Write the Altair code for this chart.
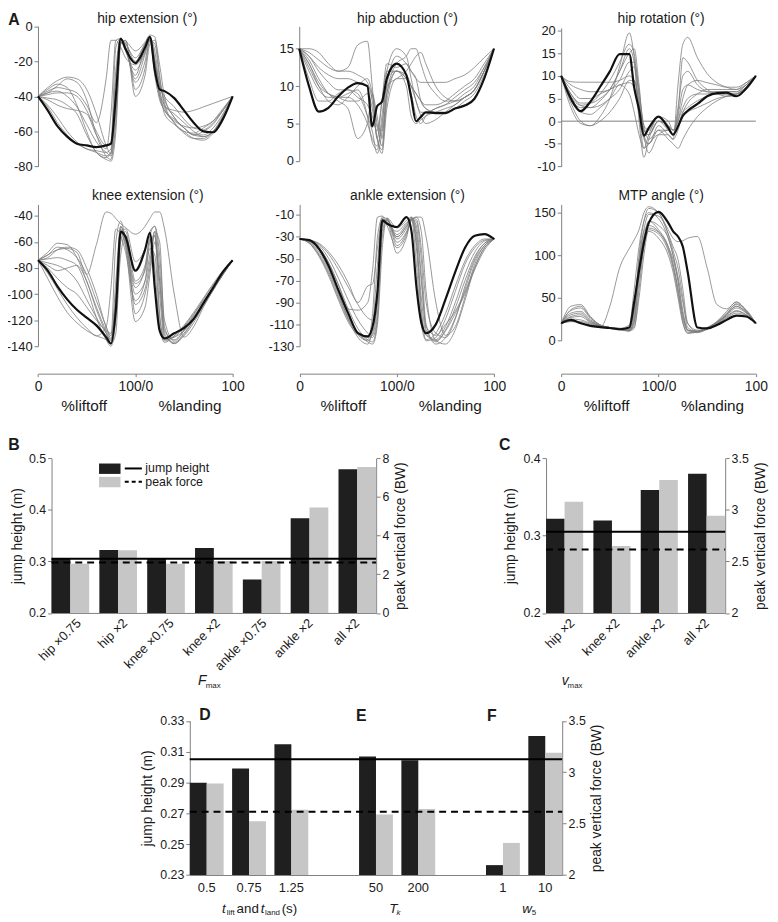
import altair as alt
import pandas as pd

# ---------------------------------------------------------------- data ----
X_GRID = [0, 10, 20, 30, 40, 50, 60, 70, 75, 80, 85, 90, 100, 110, 115,
          120, 125, 130, 140, 150, 160, 170, 180, 190, 200]

HIP_EXT_MEAN = [-40, -48, -57, -63, -67, -68, -69, -68, -67, -40, -7, -13, -21, -12, -6,
                -25, -36, -37, -41, -48, -55, -60, -60.5, -53, -40]
HIP_EXT_TRIALS = [
    [-40, -36, -33, -35, -45, -60, -72, -75, -72, -40, -8, -10, -20, -10, -7, -22, -38, -45, -50, -55, -60, -63, -60, -52, -40],
    [-40, -38, -34, -30, -32, -42, -62, -74, -76, -50, -9, -14, -28, -12, -8, -20, -33, -42, -52, -58, -62, -62, -58, -50, -40],
    [-40, -41, -42, -45, -50, -62, -72, -76, -77, -60, -10, -8, -36, -24, -8, -10, -30, -44, -55, -60, -64, -65, -61, -52, -40],
    [-40, -35, -31, -29, -30, -36, -50, -68, -73, -30, -7, -12, -32, -20, -8, -25, -40, -48, -53, -58, -62, -60, -56, -48, -40],
    [-40, -45, -52, -60, -66, -70, -71, -72, -70, -25, -7, -10, -18, -10, -6, -20, -34, -40, -46, -53, -58, -59, -55, -48, -40],
    [-40, -42, -45, -47, -48, -50, -62, -70, -50, -8, -7, -14, -25, -15, -7, -14, -35, -50, -56, -60, -61, -58, -54, -47, -40],
    [-40, -38, -37, -40, -46, -56, -66, -72, -74, -55, -10, -8, -40, -28, -10, -8, -22, -40, -52, -58, -62, -63, -60, -52, -40],
    [-40, -37, -35, -36, -38, -45, -55, -30, -8, -8, -12, -18, -22, -14, -6, -18, -40, -46, -48, -49, -48, -46, -44, -42, -40],
    [-40, -46, -55, -62, -67, -70, -72, -74, -72, -45, -9, -9, -14, -9, -5, -6, -28, -46, -55, -61, -64, -64, -60, -51, -40],
    [-40, -39, -38, -38, -40, -48, -60, -68, -66, -12, -7, -12, -30, -16, -7, -28, -42, -48, -54, -57, -58, -57, -54, -48, -40],
]

HIP_ABD_MEAN = [15, 10, 6.6, 7.1, 8.6, 9.8, 10.4, 10.0, 4.6, 7.3, 7.9, 11.0, 13.0, 11.5, 8.5,
                5.3, 5.9, 6.5, 6.4, 6.4, 7.0, 7.4, 8.3, 11.0, 15]
HIP_ABD_TRIALS = [
    [15, 15, 14.5, 13, 12, 12.5, 15.5, 16, 10, 3, 8, 13, 12.5, 13, 12, 11, 10.5, 10.5, 10.5, 10.5, 11, 11.5, 12.5, 13.8, 15],
    [15, 12, 9.5, 8.5, 8.5, 9, 9.5, 6, 2.5, 1.5, 6, 11, 12, 10, 6, 5, 5.5, 6, 6.5, 7, 7.5, 8.5, 9.5, 12, 15],
    [15, 13, 10.5, 9, 8.5, 8.5, 7.5, 5, 3, 2, 5, 10, 11, 12, 13, 14, 14.5, 13, 10, 8.5, 8, 8.5, 9.5, 12, 15],
    [15, 14, 12, 10.5, 9.5, 9.5, 9, 6, 4, 1, 4, 12, 15, 14, 11, 8, 6.5, 6.5, 7, 7.5, 8.5, 9.5, 10.5, 12.5, 15],
    [15, 11, 8, 8, 9, 9.5, 8.5, 7.5, 6, 4, 8, 12, 12, 11, 9, 6, 5, 6, 7, 7.5, 8, 9, 10, 12.5, 15],
    [15, 13.5, 11, 9, 8, 7, 3, 5, 9, 6, 3, 10, 14, 13, 12, 11, 8, 7, 6.5, 6.5, 7, 8, 9, 11.5, 15],
    [15, 12.5, 10, 9, 8.5, 8, 8, 9, 7, 3, 1.5, 8, 12, 11, 10, 9, 8, 7, 6.5, 6.5, 7, 7.5, 8.5, 11, 15],
    [15, 14, 12.5, 11.5, 11, 11, 10.5, 10, 9, 5, 2, 9, 13, 14, 15, 15, 13, 11, 9, 8, 8, 8.5, 9.5, 12, 15],
    [15, 13, 10, 8, 7.5, 8.5, 10, 11, 9, 4.5, 4, 9, 12, 11.5, 10, 8, 6, 5, 5.5, 6.5, 7.5, 8.5, 9.5, 12, 15],
    [15, 14.5, 13.5, 12.5, 12, 12, 11.5, 10.5, 8, 3, 1, 7, 11, 11, 10, 9, 8, 7.5, 7.5, 8, 9, 10, 11, 13, 15],
]

HIP_ROT_MEAN = [10, 5, 2.2, 4.3, 7.6, 11, 14.8, 14.8, 7.4, 2.5, -3.2, -1.5, 1, -1.5, -3,
                -1.2, 1.2, 2.3, 3.8, 5.5, 6.2, 6.3, 5.5, 7.2, 10]
HIP_ROT_TRIALS = [
    [10, 8.7, 8.6, 8.6, 8.6, 8.6, 9, 10, 9, 4, -2, -3, 0, -1, -2, 0, 5, 8, 9, 8.5, 8, 7.5, 7.5, 8.5, 10],
    [10, 4, 0, -1, 1, 5, 12, 19.5, 14, 2, -6, -5, -3, -3, -4, 8, 17, 18.5, 14, 10.5, 8.5, 7.5, 7, 8, 10],
    [10, 6, 4, 4, 5, 7, 11, 16, 13, 0, -8, -4, 0, -1, -2, 2, 14, 13, 9, 7, 6, 6, 6, 7.5, 10],
    [10, 3, -0.5, -1, 0, 2, 5, 9, 9, 4, -3, -5, -2, -4, -5, -6, -4, -2, 1, 3, 4.5, 5.5, 6, 7.5, 10],
    [10, 5, 3, 3, 4.5, 7, 11, 15, 16, 8, -2, -3, 0, -2, -3, 3, 10, 11, 8, 6.5, 6, 5.5, 5.5, 7, 10],
    [10, 4.5, 2, 1.5, 3, 5, 8, 6, 2, -3, -6, -3, 1, 0, -2, 0, 3, 5, 6, 6, 6.5, 6.5, 6.5, 8, 10],
    [10, 7, 5, 5, 6, 7, 8, 8.5, 7.5, 3, -1, -2, 1, -1, -3, -1, 2, 4, 6, 7, 7, 7, 7, 8.5, 10],
    [10, 5.5, 3.5, 4, 6, 9, 13, 17, 15, 5, -4, -5, -1, -3, -4, -2, 2, 3, 4.5, 5.5, 6, 6, 6, 7.5, 10],
    [10, 6, 3.5, 3, 3.5, 5, 7, 11, 12, 6, -1, -4, -2, -2, -3, 1, 7, 8, 7, 6.5, 6.5, 6.5, 6.5, 8, 10],
    [10, 8, 7, 6.5, 6.5, 7, 9, 13, 13, 7, -3, -7, -3, -2, -3, -1, 1, 2, 3, 4, 5, 5.5, 6, 7.5, 10],
]

KNEE_MEAN = [-74, -82, -94, -104, -112, -118, -124, -133, -138, -112, -52, -56, -82, -66, -53,
             -95, -128, -134, -130, -126, -119, -107, -95, -83, -74]
KNEE_TRIALS = [
    [-74, -70, -66, -65, -68, -85, -62, -37, -38, -42, -46, -49, -54, -48, -42, -37, -37, -50, -100, -133, -125, -110, -97, -85, -74],
    [-74, -68, -61, -62, -72, -90, -110, -128, -135, -90, -48, -60, -100, -90, -70, -52, -100, -135, -133, -125, -115, -105, -95, -84, -74],
    [-74, -72, -66, -64, -66, -80, -100, -125, -132, -60, -44, -58, -95, -80, -55, -48, -70, -120, -136, -128, -116, -104, -93, -83, -74],
    [-74, -78, -82, -80, -78, -90, -112, -130, -138, -100, -50, -62, -108, -96, -75, -55, -90, -130, -138, -130, -120, -108, -96, -85, -74],
    [-74, -88, -102, -114, -122, -128, -132, -135, -138, -130, -60, -52, -90, -78, -58, -80, -125, -137, -132, -124, -114, -103, -92, -82, -74],
    [-74, -84, -96, -108, -118, -126, -132, -125, -95, -50, -55, -68, -105, -90, -60, -55, -115, -136, -132, -125, -117, -106, -95, -84, -74],
    [-74, -70, -64, -66, -72, -85, -105, -125, -134, -115, -55, -50, -75, -65, -52, -48, -80, -128, -135, -128, -118, -106, -95, -84, -74],
    [-74, -73, -72, -74, -78, -95, -118, -135, -140, -120, -70, -55, -115, -100, -80, -52, -60, -125, -138, -132, -122, -109, -97, -85, -74],
    [-74, -80, -88, -95, -100, -110, -120, -128, -130, -105, -48, -58, -92, -82, -65, -70, -118, -134, -133, -128, -119, -107, -95, -84, -74],
    [-74, -76, -78, -82, -90, -104, -118, -130, -136, -110, -52, -64, -121, -110, -85, -60, -90, -132, -137, -131, -120, -108, -96, -85, -74],
]

ANKLE_MEAN = [-32, -33, -41, -57, -79, -100, -118, -121, -112, -80, -15, -18, -21, -12, -25,
              -75, -108, -118, -110, -87, -62, -40, -29, -27.5, -32]
ANKLE_TRIALS = [
    [-32, -33, -36, -44, -56, -72, -90, -75, -73, -40, -12, -14, -30, -20, -13, -14, -40, -90, -118, -122, -105, -75, -50, -36, -32],
    [-32, -34, -40, -54, -74, -96, -97, -90, -60, -12, -11, -20, -40, -28, -14, -12, -12, -30, -90, -120, -112, -85, -55, -38, -32],
    [-32, -36, -48, -66, -88, -108, -120, -125, -118, -85, -18, -15, -28, -18, -12, -40, -100, -120, -124, -112, -90, -64, -44, -34, -32],
    [-32, -34, -42, -58, -80, -102, -118, -126, -128, -110, -40, -13, -35, -25, -15, -12, -25, -80, -125, -128, -115, -88, -58, -40, -32],
    [-32, -35, -46, -62, -84, -104, -118, -124, -100, -30, -13, -18, -25, -17, -14, -55, -110, -124, -118, -100, -75, -52, -38, -32, -32],
    [-32, -33, -38, -50, -68, -88, -106, -118, -122, -100, -25, -14, -32, -22, -13, -20, -65, -115, -126, -115, -95, -70, -48, -36, -32],
    [-32, -35, -44, -60, -82, -105, -122, -128, -112, -55, -14, -16, -45, -30, -13, -30, -95, -125, -122, -105, -80, -55, -40, -33, -32],
    [-32, -34, -40, -54, -74, -96, -114, -124, -126, -105, -30, -15, -38, -26, -14, -16, -50, -110, -128, -122, -104, -78, -52, -38, -32],
    [-32, -33, -37, -46, -60, -76, -92, -104, -106, -80, -20, -13, -22, -15, -12, -25, -70, -112, -120, -110, -98, -80, -58, -40, -32],
    [-32, -36, -47, -64, -86, -106, -119, -122, -120, -90, -16, -17, -30, -20, -14, -35, -85, -118, -125, -116, -100, -82, -60, -42, -32],
]

MTP_MEAN = [20, 24, 20, 17, 15.5, 14.5, 13, 15, 45, 82, 115, 138, 151, 138, 128,
            122, 110, 80, 15, 14, 18, 24, 29, 28, 20]
MTP_TRIALS = [
    [20, 22, 21, 18, 15, 40, 85, 108, 118, 130, 150, 157, 150, 130, 120, 116, 117, 120, 122, 85, 42, 37, 45, 35, 20],
    [20, 40, 42, 28, 18, 15, 13, 11, 14, 60, 110, 140, 135, 120, 100, 75, 45, 20, 10, 14, 22, 34, 45, 35, 20],
    [20, 35, 38, 26, 18, 15, 13, 12, 20, 80, 120, 140, 130, 110, 90, 60, 30, 12, 10, 13, 20, 30, 40, 33, 20],
    [20, 28, 30, 22, 17, 14, 12, 11, 30, 100, 140, 155, 150, 125, 110, 95, 60, 20, 12, 14, 20, 28, 35, 30, 20],
    [20, 32, 34, 24, 18, 15, 14, 12, 16, 50, 100, 130, 125, 105, 85, 55, 25, 11, 11, 15, 22, 32, 42, 34, 20],
    [20, 25, 24, 20, 16, 14, 13, 12, 40, 95, 128, 135, 128, 110, 95, 70, 35, 12, 9, 13, 19, 27, 34, 30, 20],
    [20, 27, 28, 21, 17, 15, 14, 18, 60, 110, 140, 150, 143, 120, 100, 70, 30, 12, 11, 15, 21, 29, 38, 32, 20],
    [20, 30, 32, 23, 17, 15, 13, 11, 25, 85, 122, 132, 127, 108, 88, 60, 22, 9, 10, 14, 20, 30, 40, 33, 20],
    [20, 22, 22, 19, 16, 15, 14, 13, 35, 90, 130, 148, 146, 125, 105, 85, 50, 15, 10, 14, 19, 26, 32, 29, 20],
    [20, 36, 40, 27, 18, 15, 13, 12, 22, 70, 112, 128, 120, 100, 80, 50, 20, 8, 10, 14, 21, 31, 43, 36, 20],
]

B_CONDITIONS = ["hip ×0.75", "hip ×2", "knee ×0.75", "knee ×2", "ankle ×0.75", "ankle ×2", "all ×2"]
B_JUMP = [0.306, 0.322, 0.306, 0.326, 0.265, 0.384, 0.479]
B_FORCE = [2.55, 3.24, 2.55, 2.69, 2.69, 5.46, 7.55]

C_CONDITIONS = ["hip ×2", "knee ×2", "ankle ×2", "all ×2"]
C_JUMP = [0.322, 0.3195, 0.359, 0.380]
C_FORCE = [3.08, 2.65, 3.29, 2.944]

DEF_CONDITIONS = ["0.5", "0.75", "1.25", "50", "200", "1", "10"]
DEF_SLOTS = ["0.5", "0.75", "1.25", "gap1", "50", "200", "gap2", "1", "10"]
DEF_JUMP = [0.2898, 0.299, 0.3148, 0.3069, 0.3044, 0.2364, 0.3201]
DEF_FORCE = [2.89, 2.524, 2.634, 2.589, 2.643, 2.312, 3.19]

JUMP_REF = 0.305
FORCE_REF = 2.615

# -------------------------------------------------------------- layout ----
W, H = 770, 914
M = 8  # page margin: chart origin sits at page (8, 8)


def P(v):
    return v - M


FONT = "Liberation Sans"
INK = "#1a1a1a"
AXIS_GRAY = "#808080"
BAR_DARK = "#1f1f1f"
BAR_LIGHT = "#c6c6c6"
TRIAL_GRAY = "#7d7d7d"
NUM_EXPR = "'' + datum.value"

A_LAYOUT = [
    dict(left=38.3, right=235, top=21.7, bottom=163.3, domain=[-80, 0], ticks=[0, -20, -40, -60, -80]),
    dict(left=302.3, right=499, top=21.7, bottom=157.7, domain=[0, 18], ticks=[0, 5, 10, 15]),
    dict(left=567, right=763.7, top=23.3, bottom=163.3, domain=[-10, 20.6], ticks=[-10, -5, 0, 5, 10, 15, 20], zero=True),
    dict(left=38.3, right=235, top=201.7, bottom=345, domain=[-140, -31.2], ticks=[-40, -60, -80, -100, -120, -140], xaxis=372.7),
    dict(left=302.7, right=499.3, top=201.7, bottom=345, domain=[-130, -0.4], ticks=[-10, -30, -50, -70, -90, -110, -130], xaxis=372.7),
    dict(left=567, right=763.7, top=201.7, bottom=339, domain=[0, 159.7], ticks=[0, 50, 100, 150], xaxis=372.7),
]
A_DATA = [
    (HIP_EXT_TRIALS, HIP_EXT_MEAN), (HIP_ABD_TRIALS, HIP_ABD_MEAN), (HIP_ROT_TRIALS, HIP_ROT_MEAN),
    (KNEE_TRIALS, KNEE_MEAN), (ANKLE_TRIALS, ANKLE_MEAN), (MTP_TRIALS, MTP_MEAN),
]


def lin(domain, a, b):
    return alt.Scale(domain=domain, range=[P(a), P(b)], nice=False, zero=False)


def a_panel(lay, trials, mean):
    xs = lin([0, 200], lay["left"], lay["right"])
    ys = lin(lay["domain"], lay["bottom"], lay["top"])
    if lay.get("xaxis"):
        xax = alt.Axis(orient="bottom", offset=P(lay["xaxis"]) - H, values=[0, 100, 200],
                       labelExpr="datum.value == 0 ? '0' : (datum.value == 100 ? '100/0' : '100')",
                       title=None, tickSize=3, labelPadding=3, labelFontSize=14)
    else:
        xax = None
    yax = alt.Axis(orient="left", offset=-P(lay["left"]), values=lay["ticks"], labelExpr=NUM_EXPR,
                   title=None, labelFontSize=13)
    rows = [{"trial": i, "pct": x, "angle": v}
            for i, tr in enumerate(trials) for x, v in zip(X_GRID, tr)]
    out = [alt.Chart(pd.DataFrame(rows)).mark_line(
        interpolate="monotone", color=TRIAL_GRAY, strokeWidth=0.8).encode(
        x=alt.X("pct:Q", scale=xs, axis=xax),
        y=alt.Y("angle:Q", scale=ys, axis=yax),
        detail="trial:N")]
    if lay.get("zero"):
        out.append(alt.Chart(pd.DataFrame({"a": [0], "b": [200], "v": [0]})).mark_rule(
            color=TRIAL_GRAY, strokeWidth=1).encode(
            x=alt.X("a:Q", scale=xs, axis=None), x2="b:Q",
            y=alt.Y("v:Q", scale=ys, axis=None)))
    out.append(alt.Chart(pd.DataFrame({"pct": X_GRID, "angle": mean})).mark_line(
        interpolate="monotone", color="#111111", strokeWidth=2.2).encode(
        x=alt.X("pct:Q", scale=xs, axis=None),
        y=alt.Y("angle:Q", scale=ys, axis=None)))
    return out


def bar_panel(cats, slots, jump, force, lay, rotated):
    xs = alt.Scale(domain=slots, range=[P(lay["left"]), P(lay["right"])],
                   paddingInner=lay["pad"], paddingOuter=0)
    xo = alt.Scale(domain=["jump height", "peak force"], paddingInner=0, paddingOuter=0)
    yl = lin(lay["jdom"], lay["bottom"], lay["top"])
    yr = lin(lay["fdom"], lay["bottom"], lay["top"])
    if rotated:
        xax = alt.Axis(orient="bottom", offset=P(lay["bottom"]) - H, title=None, ticks=False,
                       tickSize=0, labels=False)
    else:
        xax = alt.Axis(orient="bottom", offset=P(lay["bottom"]) - H, title=None, ticks=False,
                       tickSize=0, labelAngle=0, labelFontSize=13, labelPadding=7,
                       labelExpr="indexof(datum.value, 'gap') == 0 ? '' : datum.value")
    ylax = alt.Axis(orient="left", offset=-P(lay["left"]), values=lay["jticks"], labelExpr=NUM_EXPR,
                    title="jump height (m)", titlePadding=lay["tpl"], labelFontSize=12.5)
    yrax = alt.Axis(orient="right", offset=P(lay["right"]) - W, values=lay["fticks"], labelExpr=NUM_EXPR,
                    title="peak vertical force (BW)", titleAngle=270, titleBaseline="top",
                    titlePadding=lay["tpr"], labelFontSize=12.5)
    dfj = pd.DataFrame({"cond": cats, "series": "jump height", "val": jump})
    dff = pd.DataFrame({"cond": cats, "series": "peak force", "val": force})
    black = alt.Chart(dfj).mark_bar(color=BAR_DARK).encode(
        x=alt.X("cond:N", scale=xs, axis=xax),
        xOffset=alt.XOffset("series:N", scale=xo),
        y=alt.Y("val:Q", scale=yl, axis=ylax),
        y2=alt.datum(lay["jdom"][0]))
    gray = alt.Chart(dff).mark_bar(color=BAR_LIGHT).encode(
        x=alt.X("cond:N", scale=xs, axis=None),
        xOffset=alt.XOffset("series:N", scale=xo),
        y=alt.Y("val:Q", scale=yr, axis=yrax),
        y2=alt.datum(lay["fdom"][0]))
    ux = lin([0, 1], lay["left"], lay["right"])
    solid = alt.Chart(pd.DataFrame({"a": [0], "b": [1], "v": [JUMP_REF]})).mark_rule(
        color="black", strokeWidth=2).encode(
        x=alt.X("a:Q", scale=ux, axis=None), x2="b:Q", y=alt.Y("v:Q", scale=yl, axis=None))
    dashed = alt.Chart(pd.DataFrame({"a": [0], "b": [1], "v": [FORCE_REF]})).mark_rule(
        color="black", strokeWidth=2, strokeDash=[7, 5]).encode(
        x=alt.X("a:Q", scale=ux, axis=None), x2="b:Q", y=alt.Y("v:Q", scale=yr, axis=None))
    out = [black, gray, solid, dashed]
    if rotated:
        # category labels, rotated 45 degrees, placed at each band centre
        out.append(alt.Chart(pd.DataFrame({"cond": cats})).mark_text(
            angle=315, align="right", baseline="top", font=FONT, fontSize=13, color=INK).encode(
            x=alt.X("cond:N", scale=xs, axis=None),
            y=alt.value(P(lay["bottom"]) + 4),
            text="cond:N"))
    return out


B_LAYOUT = dict(left=52, right=380, top=458.3, bottom=614.5, pad=0.213, jdom=[0.2, 0.5], fdom=[0, 8],
                jticks=[0.2, 0.3, 0.4, 0.5], fticks=[0, 2, 4, 6, 8], tpl=4, tpr=5)
C_LAYOUT = dict(left=551.7, right=732.7, top=458.3, bottom=614.5, pad=0.216, jdom=[0.2, 0.4], fdom=[2, 3.5],
                jticks=[0.2, 0.3, 0.4], fticks=[2, 2.5, 3, 3.5], tpl=6, tpr=5)
DEF_LAYOUT = dict(left=191.7, right=568, top=723.5, bottom=879.3, pad=0.2, jdom=[0.23, 0.33], fdom=[2, 3.5],
                  jticks=[0.23, 0.25, 0.27, 0.29, 0.31, 0.33], fticks=[2, 2.5, 3, 3.5], tpl=5, tpr=4)


def text_layer(rows, **mark_kw):
    df = pd.DataFrame(rows, columns=["text", "x", "y", "size"])
    df["x"] = df["x"] - M
    df["y"] = df["y"] - M
    return alt.Chart(df).mark_text(font=FONT, color=INK, baseline="middle", **mark_kw).encode(
        x=alt.X("x:Q", scale=None, axis=None),
        y=alt.Y("y:Q", scale=None, axis=None),
        size=alt.Size("size:Q", scale=None, legend=None),
        text="text:N")


def box_layer(rows):
    df = pd.DataFrame(rows, columns=["x", "x2", "y", "y2", "c"])
    for k in ["x", "x2", "y", "y2"]:
        df[k] = df[k] - M
    return alt.Chart(df).mark_rect().encode(
        x=alt.X("x:Q", scale=None, axis=None), x2="x2:Q",
        y=alt.Y("y:Q", scale=None, axis=None), y2="y2:Q",
        color=alt.Color("c:N", scale=None, legend=None))


def line_layer(rows, **mark_kw):
    df = pd.DataFrame(rows, columns=["x", "x2", "y"])
    for k in ["x", "x2", "y"]:
        df[k] = df[k] - M
    return alt.Chart(df).mark_rule(color="black", strokeWidth=2, **mark_kw).encode(
        x=alt.X("x:Q", scale=None, axis=None), x2="x2:Q",
        y=alt.Y("y:Q", scale=None, axis=None))


layers = []
for lay, (tr, mn) in zip(A_LAYOUT, A_DATA):
    layers += a_panel(lay, tr, mn)
layers += bar_panel(B_CONDITIONS, B_CONDITIONS, B_JUMP, B_FORCE, B_LAYOUT, True)
layers += bar_panel(C_CONDITIONS, C_CONDITIONS, C_JUMP, C_FORCE, C_LAYOUT, True)
layers += bar_panel(DEF_CONDITIONS, DEF_SLOTS, DEF_JUMP, DEF_FORCE, DEF_LAYOUT, False)

# legend of panel B
layers.append(box_layer([(100, 121.7, 463.5, 474, BAR_DARK), (100, 121.7, 477, 487.5, BAR_LIGHT)]))
layers.append(line_layer([(126, 143.3, 468.5)]))
layers.append(line_layer([(126, 143.3, 482)], strokeDash=[4, 3]))
layers.append(text_layer([("jump height", 146.7, 468.5, 12.5), ("peak force", 146.7, 482.5, 12.5)], align="left"))

# panel letters
layers.append(text_layer([("A", 14, 15, 16), ("B", 14, 445, 16), ("C", 510, 445, 16),
                          ("D", 207, 718, 16), ("E", 365, 719, 16), ("F", 497, 719, 16)],
                         align="center", fontWeight="bold"))
# panel A titles and phase labels
layers.append(text_layer([
    ("hip extension (°)", 148.7, 14.5, 14), ("hip abduction (°)", 411.7, 14.5, 14), ("hip rotation (°)", 668, 14.5, 14),
    ("knee extension (°)", 149.3, 193, 14), ("ankle extension (°)", 411.7, 193, 14), ("MTP angle (°)", 668, 193, 14),
    ("%liftoff", 85, 405, 15.5), ("%landing", 192, 405, 15.5),
    ("%liftoff", 347, 405, 15.5), ("%landing", 455, 405, 15.5),
    ("%liftoff", 613, 405, 15.5), ("%landing", 720, 405, 15.5),
], align="center"))
# axis-group titles with subscripts
layers.append(text_layer([
    ("F", 200, 683, 14), ("v", 567.5, 683, 14),
    ("t", 224.3, 914, 13.5), ("t", 263.3, 914, 13.5),
    ("T", 393.3, 914, 13.5), ("w", 527.7, 914, 13.5), ("k", 400.7, 918, 8),
], align="left", fontStyle="italic"))
layers.append(text_layer([
    ("max", 207.8, 688, 8), ("max", 573.5, 688, 8),
    ("lift", 229, 918, 8), ("and", 239, 914, 13.5), ("land", 267.7, 918, 8), ("(s)", 284.5, 914, 13.5),
    ("5", 537.3, 918, 8),
], align="left"))

chart = alt.layer(*layers).resolve_scale(
    x="independent", y="independent", xOffset="independent"
).properties(
    width=W, height=H, autosize=alt.AutoSizeParams(type="none"), padding=0
).configure_axis(
    labelFont=FONT, titleFont=FONT, labelColor=INK, titleColor=INK, titleFontWeight="normal",
    titleFontSize=14, domainColor=AXIS_GRAY, tickColor=AXIS_GRAY, tickSize=4, labelPadding=2,
    grid=False, labelFlush=False, labelOverlap=False, domainWidth=1
).configure_view(stroke=None)

chart.save("out.html", embed_options={"renderer": "svg", "actions": False})
